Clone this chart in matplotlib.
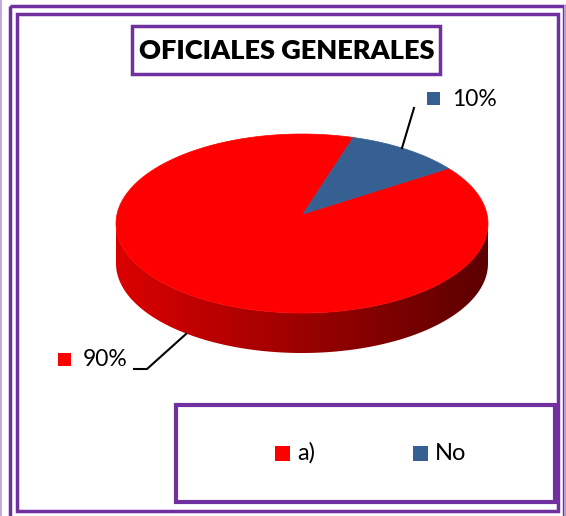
import numpy as np
import matplotlib.pyplot as plt
from matplotlib.patches import Polygon, Rectangle

# data
categories = ['a)', 'No']
values = [90, 10]
labels = ['90%', '10%']
colors = ['#FF0000', '#376092']
title = 'OFICIALES GENERALES'

purple = '#7030A0'
light_purple = '#B99BD3'
font = 'Lato'

fig = plt.figure(figsize=(5.66, 5.16), dpi=100)
ax = fig.add_axes([0, 0, 1, 1])
ax.set_xlim(0, 566)
ax.set_ylim(516, 0)
ax.axis('off')

# frames
ax.plot([1, 1], [0, 516], color=light_purple, lw=1.2)
ax.add_patch(Rectangle((9.5, 6), 554, 520, fill=False, ec=purple, lw=2.5))
ax.plot([564.5, 564.5], [6, 516], color=light_purple, lw=1.5)
ax.add_patch(Rectangle((16.5, 13.5), 541, 497, fill=False, ec=purple, lw=2.5))

# pie geometry (pixels)
cx, cy = 302, 223.5
a, b = 186, 89.5
depth = 40
apex = (303, 214)
start = 38.0

def pt(t):
    t = np.radians(t)
    return cx + a * np.cos(t), cy - b * np.sin(t)

# side wall, front half with left->right shading
ts = np.linspace(180, 360, 200)
front = [pt(t) for t in ts]
side = front + [(x, y + depth) for x, y in front[::-1]]
side_patch = Polygon(side, closed=True, fc='none', ec='none')
ax.add_patch(side_patch)
grad = np.linspace(0, 1, 256)
rgb = np.zeros((1, 256, 3))
rgb[0, :, 0] = 0.86 - 0.50 * grad
im = ax.imshow(rgb, extent=(cx - a, cx + a, cy + b + depth + 2, cy - 2),
               aspect='auto', interpolation='bilinear')
im.set_clip_path(side_patch)
ax.set_xlim(0, 566)
ax.set_ylim(516, 0)

# top faces, clockwise from start
total = sum(values)
ang = start
for v, col in zip(values, colors):
    sweep = 360.0 * v / total
    tt = np.linspace(ang, ang - sweep, 200)
    pts = [apex] + [pt(t) for t in tt]
    ax.add_patch(Polygon(pts, closed=True, fc=col, ec=col, lw=0.5))
    ang -= sweep

# labels with leader lines
lab_pos = [(83, 360), (452, 99)]
leaders = [[(186, 334), (147, 369), (134, 369)],
           [(402, 148), (414, 108)]]
for lab, col, (lx, ly), ld in zip(labels, colors, lab_pos, leaders):
    ax.add_patch(Rectangle((lx - 25, ly - 7), 13, 13, fc=col, ec='none'))
    ax.text(lx, ly, lab, fontsize=16.5, family=font, va='center', ha='left')
    ax.plot([p[0] for p in ld], [p[1] for p in ld], color='black', lw=1.5)

# title box
ax.add_patch(Rectangle((132, 26), 308, 48, fill=False, ec=purple, lw=2.5))
ax.text(287, 51, title, fontsize=19.5, fontweight='heavy', family=font,
        ha='center', va='center')

# legend box
ax.add_patch(Rectangle((176, 405), 379, 97, fill=False, ec=purple, lw=3))
leg_x = [275, 413]
for cat, col, lx in zip(categories, colors, leg_x):
    ax.add_patch(Rectangle((lx, 446), 15, 15, fc=col, ec='none'))
    ax.text(lx + 22, 453, cat, fontsize=17, family=font, va='center', ha='left')

fig.savefig('out.png', dpi=100)
